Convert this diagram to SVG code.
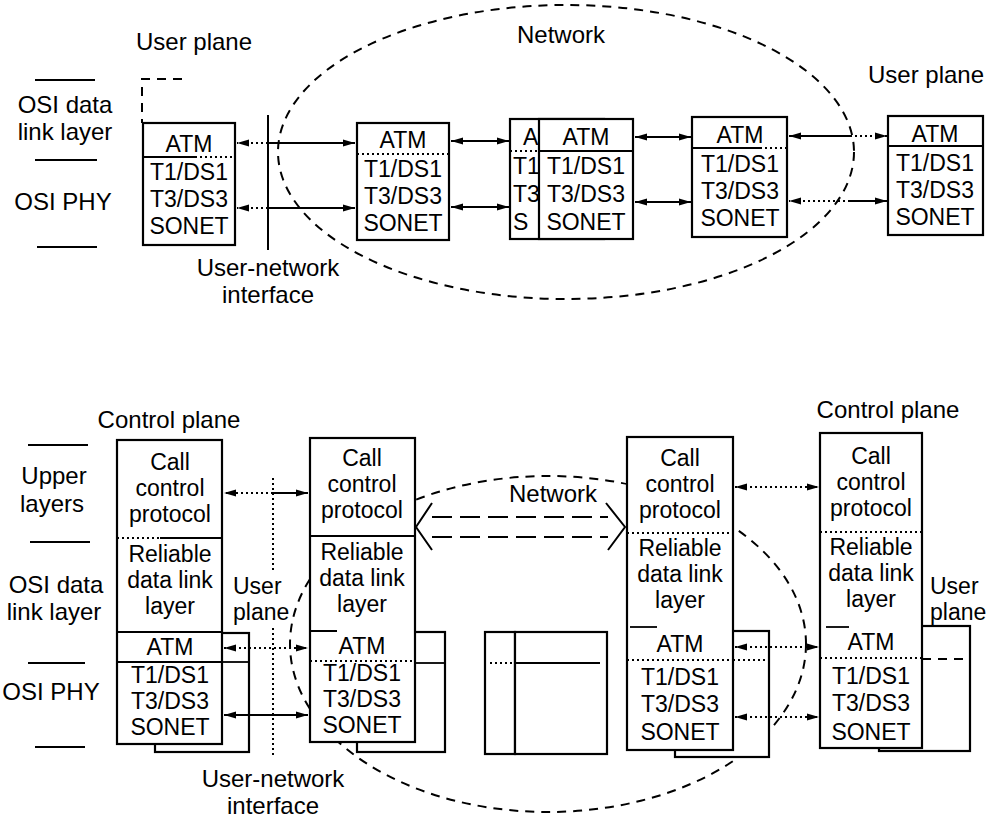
<svg xmlns="http://www.w3.org/2000/svg" width="995" height="822" viewBox="0 0 995 822">
<style>
text{font-family:"Liberation Sans",Arial,Helvetica,sans-serif;fill:#000}
.t{font-size:23px;text-anchor:middle}
.ts{font-size:23px;text-anchor:start}
.l{font-size:24px;text-anchor:middle}
.ls{font-size:23px;text-anchor:start}
.box{fill:#fff;stroke:#000;stroke-width:2.2}
.ln{fill:none;stroke:#000;stroke-width:2}
.dv{fill:none;stroke:#000;stroke-width:1.8}
.dt{fill:none;stroke:#000;stroke-width:2;stroke-dasharray:2 3}
.ds{fill:none;stroke:#000;stroke-width:2;stroke-dasharray:9 7}
.dl{fill:none;stroke:#000;stroke-width:2;stroke-dasharray:20 8}
</style>
<defs>
<marker id="a" viewBox="0 0 12 8" refX="12" refY="4" markerWidth="12" markerHeight="8" markerUnits="userSpaceOnUse" orient="auto-start-reverse"><path d="M0,0.5 L12,4 L0,7.5 z" fill="#000"/></marker>
</defs>
<rect width="995" height="822" fill="#fff"/>

<g id="layer-labels">
<path class="ln" d="M35,80 H95 M35,160 H97 M37,247 H97"/>
<text class="l" x="65" y="113">OSI data</text>
<text class="l" x="65" y="140">link layer</text>
<text class="l" x="63" y="210">OSI PHY</text>
<path class="ln" d="M28,445 H88 M30,542 H90 M28,663 H85 M35,747 H85"/>
<text class="l" x="54" y="484">Upper</text>
<text class="l" x="52" y="512">layers</text>
<text class="l" x="56" y="593">OSI data</text>
<text class="l" x="54" y="620">link layer</text>
<text class="l" x="51" y="700">OSI PHY</text>
</g>

<g id="regions">
<ellipse class="ds" cx="566" cy="152" rx="288" ry="147"/>
<text class="l" x="561" y="43">Network</text>
<ellipse class="ds" cx="548" cy="644" rx="258" ry="168"/>
<text class="l" x="553" y="502">Network</text>
<path class="ds" d="M182,79 H142 V123"/>
<text class="l" x="194" y="50">User plane</text>
<text class="l" x="926" y="83">User plane</text>
<text class="l" x="268" y="276">User-network</text>
<text class="l" x="268" y="303">interface</text>
<text class="l" x="169" y="428">Control plane</text>
<text class="l" x="888" y="418">Control plane</text>
<text class="ls" x="233" y="594">User</text>
<text class="ls" x="233" y="620">plane</text>
<text class="ls" x="930" y="594">User</text>
<text class="ls" x="930" y="620">plane</text>
<text class="l" x="273" y="787">User-network</text>
<text class="l" x="273" y="814">interface</text>
<path class="ln" stroke-width="2.5" d="M268,115 V250"/>
<path class="dt" d="M273,478 V572 M273,628 V757"/>
</g>

<g id="top-user-1">
<rect class="box" x="143" y="123" width="92" height="122"/>
<path class="dv" d="M143,157 H195"/><path class="dt" d="M195,157 H235"/>
<text class="t" x="189" y="152">ATM</text>
<text class="t" x="189" y="180">T1/DS1</text>
<text class="t" x="189" y="207">T3/DS3</text>
<text class="t" x="189" y="234">SONET</text>
</g>
<g id="top-switch-1">
<rect class="box" x="357" y="123" width="92" height="117"/>
<path class="dt" d="M357,154 H449"/>
<text class="t" x="403" y="148">ATM</text>
<text class="t" x="403" y="177">T1/DS1</text>
<text class="t" x="403" y="204">T3/DS3</text>
<text class="t" x="403" y="231">SONET</text>
</g>
<g id="top-switch-2">
<rect class="box" x="510" y="119" width="94" height="120"/>
<path class="dt" d="M510,151 H539"/>
<text class="ts" x="523" y="145">A</text>
<text class="ts" x="513" y="174">T1</text>
<text class="ts" x="513" y="202">T3</text>
<text class="ts" x="513" y="230">S</text>
</g>
<g id="top-switch-3">
<rect class="box" x="539" y="119" width="94" height="120"/>
<path class="dv" d="M539,151 H633"/>
<text class="t" x="586" y="145">ATM</text>
<text class="t" x="586" y="174">T1/DS1</text>
<text class="t" x="586" y="202">T3/DS3</text>
<text class="t" x="586" y="230">SONET</text>
</g>
<g id="top-switch-4">
<rect class="box" x="692" y="117" width="95" height="120"/>
<path class="dv" d="M692,148 H760"/><path class="dt" d="M760,148 H787"/>
<text class="t" x="740" y="143">ATM</text>
<text class="t" x="740" y="172">T1/DS1</text>
<text class="t" x="740" y="199">T3/DS3</text>
<text class="t" x="740" y="226">SONET</text>
</g>
<g id="top-user-2">
<rect class="box" x="888" y="116" width="95" height="119"/>
<path class="dv" d="M888,146 H983"/>
<text class="t" x="935" y="142">ATM</text>
<text class="t" x="935" y="171">T1/DS1</text>
<text class="t" x="935" y="198">T3/DS3</text>
<text class="t" x="935" y="225">SONET</text>
</g>

<g id="ctrl-user-1">
<rect class="box" x="155" y="633" width="94" height="119"/>
<path class="dv" d="M222,662 H249"/>
<rect class="box" x="117" y="440" width="105" height="304"/>
<path class="dt" d="M117,538 H160"/><path class="dv" d="M160,538 H222 M117,632 H222 M117,662 H222"/>
<text class="t" x="170" y="470">Call</text>
<text class="t" x="170" y="496">control</text>
<text class="t" x="170" y="522">protocol</text>
<text class="t" x="170" y="562">Reliable</text>
<text class="t" x="170" y="588">data link</text>
<text class="t" x="170" y="614">layer</text>
<text class="t" x="170" y="655">ATM</text>
<text class="t" x="170" y="683">T1/DS1</text>
<text class="t" x="170" y="709">T3/DS3</text>
<text class="t" x="170" y="735">SONET</text>
</g>
<g id="ctrl-switch-1">
<rect class="box" x="357" y="632" width="88" height="120"/>
<path class="dv" d="M415,663 H445"/>
<rect class="box" x="310" y="438" width="105" height="304"/>
<path class="dv" d="M310,536 H415 M310,631 H337"/><path class="dt" d="M310,661 H415"/>
<text class="t" x="362" y="466">Call</text>
<text class="t" x="362" y="492">control</text>
<text class="t" x="362" y="518">protocol</text>
<text class="t" x="362" y="560">Reliable</text>
<text class="t" x="362" y="586">data link</text>
<text class="t" x="362" y="612">layer</text>
<text class="t" x="362" y="654">ATM</text>
<text class="t" x="362" y="681">T1/DS1</text>
<text class="t" x="362" y="707">T3/DS3</text>
<text class="t" x="362" y="733">SONET</text>
</g>
<g id="ctrl-switch-2">
<rect class="box" x="485" y="632" width="30" height="122"/>
<rect class="box" x="515" y="632" width="92" height="122"/>
<path class="dt" d="M490,663 H515"/><path class="dv" d="M515,663 H600"/>
</g>
<g id="ctrl-switch-3">
<rect class="box" x="675" y="631" width="94" height="126"/>
<path class="dt" d="M733,660 H769"/>
<rect class="box" x="627" y="437" width="106" height="313"/>
<path class="dt" d="M627,533 H733 M627,660 H733"/><path class="dv" d="M630,627 H657"/>
<text class="t" x="680" y="466">Call</text>
<text class="t" x="680" y="492">control</text>
<text class="t" x="680" y="518">protocol</text>
<text class="t" x="680" y="556">Reliable</text>
<text class="t" x="680" y="582">data link</text>
<text class="t" x="680" y="608">layer</text>
<text class="t" x="680" y="652">ATM</text>
<text class="t" x="680" y="685">T1/DS1</text>
<text class="t" x="680" y="712">T3/DS3</text>
<text class="t" x="680" y="740">SONET</text>
</g>
<g id="ctrl-user-2">
<rect class="box" x="879" y="626" width="91" height="125"/>
<path class="ds" d="M922,659 H970"/>
<rect class="box" x="820" y="433" width="102" height="315"/>
<path class="dt" d="M820,532 H922 M820,658 H922"/><path class="dv" d="M826,627 H849"/>
<text class="t" x="871" y="464">Call</text>
<text class="t" x="871" y="490">control</text>
<text class="t" x="871" y="516">protocol</text>
<text class="t" x="871" y="555">Reliable</text>
<text class="t" x="871" y="581">data link</text>
<text class="t" x="871" y="607">layer</text>
<text class="t" x="871" y="650">ATM</text>
<text class="t" x="871" y="684">T1/DS1</text>
<text class="t" x="871" y="711">T3/DS3</text>
<text class="t" x="871" y="740">SONET</text>
</g>

<g id="connectors">
<path class="dt" d="M268,143 H237" marker-end="url(#a)"/>
<path class="ln" d="M268,143 H355" marker-end="url(#a)"/>
<path class="dt" d="M268,208 H237" marker-end="url(#a)"/>
<path class="ln" d="M268,208 H355" marker-end="url(#a)"/>
<path class="ln" d="M451,141 H509" marker-start="url(#a)" marker-end="url(#a)"/>
<path class="ln" d="M451,207 H509" marker-start="url(#a)" marker-end="url(#a)"/>
<path class="ln" d="M635,137 H691" marker-start="url(#a)" marker-end="url(#a)"/>
<path class="ln" d="M635,202 H691" marker-start="url(#a)" marker-end="url(#a)"/>
<path class="ln" d="M850,136 H789" marker-end="url(#a)"/>
<path class="dt" d="M850,136 H887" marker-end="url(#a)"/>
<path class="dt" d="M850,201 H789" marker-end="url(#a)"/>
<path class="ln" d="M850,201 H887" marker-end="url(#a)"/>

<path class="dt" d="M273,493 H224" marker-end="url(#a)"/>
<path class="ln" d="M273,493 H308" marker-end="url(#a)"/>
<path class="dt" d="M224,648 H308" marker-start="url(#a)" marker-end="url(#a)"/>
<path class="ln" d="M224,715 H308" marker-start="url(#a)" marker-end="url(#a)"/>
<path class="dt" d="M735,487 H819" marker-start="url(#a)" marker-end="url(#a)"/>
<path class="dt" d="M735,647 H819" marker-start="url(#a)" marker-end="url(#a)"/>
<path class="dt" d="M735,717 H819" marker-start="url(#a)" marker-end="url(#a)"/>

<path class="ln" d="M432,503 L416,527 L432,550 M606,503 L625,527 L608,550"/>
<path class="dl" d="M432,517 H608 M432,537 H608"/>
</g>
</svg>
